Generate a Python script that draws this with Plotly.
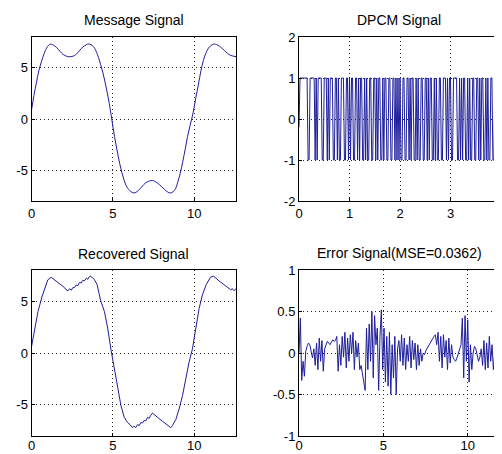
import numpy as np
import plotly.graph_objects as go

# ---------------- data ----------------
msg_t = [0.0, 0.15, 0.31, 0.45, 0.61, 0.78, 0.92, 1.05, 1.15, 1.3, 1.53, 1.75, 1.94, 2.2, 2.43,
         2.65, 2.86, 3.07, 3.27, 3.45, 3.58, 3.72, 3.88, 4.0, 4.12, 4.25, 4.39, 4.52, 4.65, 4.78,
         4.92, 5.1, 5.31, 5.55, 5.82, 6.05, 6.3, 6.55, 6.78, 7.0, 7.24, 7.42, 7.6, 7.86, 8.16,
         8.35, 8.52, 8.7, 8.85, 8.98, 9.14, 9.29, 9.45, 9.59, 9.75, 9.93, 10.1, 10.26, 10.41,
         10.56, 10.71, 10.87, 11.02, 11.18, 11.3, 11.45, 11.63, 11.85, 12.04, 12.25, 12.57]
msg_v = [0.85, 2.3, 3.6, 4.7, 5.6, 6.4, 6.9, 7.2, 7.3, 7.25, 7.0, 6.6, 6.3, 6.1, 6.08,
         6.2, 6.5, 6.9, 7.15, 7.3, 7.3, 7.2, 6.9, 6.5, 6.0, 5.3, 4.5, 3.6, 2.6, 1.5,
         0.1, -1.7, -3.5, -5.2, -6.5, -7.0, -7.22, -7.0, -6.6, -6.25, -6.05, -6.0, -6.1, -6.4, -6.85,
         -7.1, -7.22, -7.1, -6.8, -6.2, -5.3, -4.2, -2.9, -1.7, -0.6, 0.6, 2.1, 3.4, 4.7,
         5.7, 6.4, 6.9, 7.15, 7.3, 7.3, 7.2, 7.0, 6.7, 6.4, 6.2, 6.08]

dpcm_dt = 0.02
dpcm_v = [
    -0.2, 1, 1, 1, 1, 1, 1, 1, 1, -1, -1,
    1, 1, 1, 1, 1, -1, 1, -1,
    1, 1, 1, 1, -1, -1,
    1, 1, 1, -1, 1, -1,
    1, 1, 1, -1, -1,
    1, 1, -1, 1, -1, -1,
    1, 1, 1, -1, -1,
    1, 1, -1, 1, -1,
    1, 1, -1, -1,
    1, 1, -1, 1, -1,
    1, 1, -1, -1,
    1, -1, 1, -1, -1,
    1, 1, -1, -1,
    1, 1, -1, 1, -1,
    1, 1, -1, -1,
    1, -1, 1, 1, -1, -1,
    1, 1, -1, -1,
    1, 1, -1, 1, -1,
    1, -1, 1, -1, -1,
    1, 1, -1, -1,
    1, 1, -1, 1, -1,
    1, 1, -1, -1,
    1, -1, 1, -1, -1,
    1, 1, -1, -1,
    1, 1, -1, 1, -1,
    1, 1, -1, -1,
    1, -1, 1, -1, -1,
    1, 1, -1, -1,
    1, 1, 1, -1, 1, -1,
    1, 1, -1, -1,
    1, 1, 1, 1, -1, -1,
    1, -1, 1, -1,
    1, 1, -1, -1,
    1, -1, 1, -1, -1,
    1, 1, -1, -1,
    1, 1, -1, 1, -1,
    1, 1, -1, -1,
    1, -1, 1, -1, -1,
    1, 1, -1, -1,
    1, 1, 1, -1, 1, -1,
    1, 1, -1, -1,
    1, 0.2,
]

rec_t = [0.0, 0.15, 0.4, 0.64, 0.85, 1.0, 1.21, 1.42, 1.73, 1.9, 2.03, 2.12, 2.24, 2.34, 2.44,
         2.54, 2.64, 2.74, 2.85, 2.95, 3.05, 3.15, 3.25, 3.36, 3.46, 3.55, 3.62, 3.72, 3.87, 4.03,
         4.12, 4.24, 4.48, 4.68, 4.89, 5.09, 5.3, 5.5, 5.7, 5.9, 6.05, 6.21, 6.3, 6.4, 6.52,
         6.62, 6.72, 6.82, 6.92, 7.02, 7.13, 7.23, 7.33, 7.44, 7.74, 8.15, 8.46, 8.56, 8.66, 8.87,
         9.07, 9.28, 9.48, 9.68, 9.89, 10.1, 10.3, 10.5, 10.74, 11.0, 11.2, 11.52, 11.93, 12.24,
         12.35, 12.44, 12.57]
rec_v = [0.6, 2.0, 4.0, 5.4, 6.5, 7.05, 7.3, 7.05, 6.7, 6.5, 6.3, 6.1, 6.0, 6.2, 6.05,
         6.3, 6.3, 6.55, 6.5, 6.8, 6.75, 7.0, 6.95, 7.2, 7.1, 7.35, 7.4, 7.3, 7.05, 6.6,
         5.9, 5.1, 4.0, 2.4, 0.26, -1.5, -3.5, -5.1, -6.2, -6.7, -6.9, -7.2, -7.05, -7.2, -6.9,
         -7.0, -6.7, -6.75, -6.5, -6.55, -6.2, -6.3, -6.0, -5.8, -6.2, -6.7, -7.1, -7.2, -7.0, -6.4,
         -5.4, -4.1, -2.5, -0.9, 0.4, 2.4, 4.3, 5.6, 6.6, 7.3, 7.4, 6.95, 6.5, 6.1,
         6.2, 6.0, 6.2]

err_dt = 0.08
err_v = [
    0.0, 0.42, -0.33, -0.1, -0.28, 0.02, 0.08, 0.12, 0.1, 0.02,
    -0.06, 0.05, -0.15, 0.12, -0.2, 0.18, -0.1, 0.15, -0.22, 0.05,
    0.1, 0.14, 0.12, 0.1, 0.13, 0.16, 0.14, 0.15, 0.2, -0.22,
    0.1, -0.15, 0.2, -0.05, 0.25, -0.18, 0.18, -0.1, 0.22, 0.0,
    0.25, -0.2, 0.15, -0.05, 0.12, -0.2, -0.15, -0.25, -0.3, -0.45,
    0.3, -0.2, 0.35, -0.1, 0.5, -0.3, 0.45, 0.1, 0.3, -0.45,
    0.2, 0.52, -0.2, 0.3, -0.35, 0.2, -0.4, 0.25, -0.5, 0.1,
    -0.3, 0.2, -0.5, 0.05, 0.15, -0.1, 0.22, -0.15, 0.18, -0.2,
    0.1, -0.1, 0.2, -0.18, 0.15, -0.08, 0.12, -0.2, 0.1, -0.15,
    0.05, -0.1, 0.0, -0.02, 0.03, 0.06, 0.09, 0.12, 0.15, 0.18,
    0.2, 0.22, 0.1, 0.25, -0.1, 0.2, -0.18, 0.22, -0.05, 0.15,
    -0.2, 0.18, -0.12, 0.1, -0.05, -0.08, -0.1, -0.06, 0.0, 0.05,
    0.1, 0.42, -0.3, 0.45, -0.1, 0.4, -0.35, 0.1, -0.2, 0.0,
    0.08, 0.05, -0.05, -0.1, -0.05, 0.05, -0.15, 0.15, -0.2, 0.12,
    -0.18, 0.2, -0.1, 0.1, -0.2, 0.0, 0.05, 0.08, 0.1, 0.1,
    0.1, 0.08,
]

titles = ["Message Signal", "DPCM Signal", "Recovered Signal", "Error Signal(MSE=0.0362)"]
ticks_sig = [-5, 0, 5]
ticks_sig_lbl = ["-5", "0", "5"]
ticks_sig_x = [0, 5, 10]
ticks_sig_x_lbl = ["0", "5", "10"]
ticks_dpcm_x = [0, 1, 2, 3, 4]
ticks_dpcm_x_lbl = ["0", "1", "2", "3", "4"]
ticks_dpcm_y = [-2, -1, 0, 1, 2]
ticks_dpcm_y_lbl = ["-2", "-1", "0", "1", "2"]
ticks_err_y = [-1, -0.5, 0, 0.5, 1]
ticks_err_lbl = ["-1", "-0.5", "0", "0.5", "1"]

# ---------------- figure ----------------
# the page body has an 8px margin, so the figure is offset by 8px
OFF = 8
W, H = 502 - OFF, 454 - OFF
LINE = "#1e1e9c"
FONT = "Liberation Sans"

dpcm_t = np.arange(len(dpcm_v)) * dpcm_dt
err_t = np.arange(len(err_v)) * err_dt

fig = go.Figure()
fig.add_trace(go.Scatter(x=msg_t, y=msg_v, mode="lines", line=dict(color=LINE, width=1, shape="spline"),
                         xaxis="x", yaxis="y"))
fig.add_trace(go.Scatter(x=dpcm_t, y=dpcm_v, mode="lines", line=dict(color=LINE, width=1),
                         xaxis="x2", yaxis="y2"))
fig.add_trace(go.Scatter(x=rec_t, y=rec_v, mode="lines", line=dict(color=LINE, width=1),
                         xaxis="x3", yaxis="y3"))
fig.add_trace(go.Scatter(x=err_t, y=err_v, mode="lines", line=dict(color=LINE, width=1),
                         xaxis="x4", yaxis="y4"))

def px_x(a, b):
    return [(a - OFF) / W, min(1.0, (b - OFF) / W)]

def px_y(top, bot):
    return [1 - (bot - OFF) / H, 1 - (top - OFF) / H]

common = dict(showline=True, linecolor="black", linewidth=1, mirror=True, ticks="inside",
              ticklen=3, tickcolor="black", showgrid=True, gridcolor="#222222", griddash="1px,3px",
              gridwidth=1, zeroline=False, tickfont=dict(family=FONT, size=13, color="black"),
              ticklabeloverflow="allow", automargin=False, tickmode="array")

LX = px_x(31.5, 236)
RX = px_x(299, 502)
TY = px_y(37, 201)
BY = px_y(270, 436)

fig.update_layout(
    width=W, height=H, margin=dict(l=0, r=0, t=0, b=0),
    paper_bgcolor="white", plot_bgcolor="white", showlegend=False,
    xaxis=dict(domain=LX, anchor="y", range=[0, 4 * np.pi], tickvals=ticks_sig_x, ticktext=ticks_sig_x_lbl, **common),
    yaxis=dict(domain=TY, anchor="x", range=[-8, 8], tickvals=ticks_sig, ticktext=ticks_sig_lbl, **common),
    xaxis2=dict(domain=RX, anchor="y2", range=[0, 4.02], tickvals=ticks_dpcm_x, ticktext=ticks_dpcm_x_lbl, **common),
    yaxis2=dict(domain=TY, anchor="x2", range=[-2, 2], tickvals=ticks_dpcm_y, ticktext=ticks_dpcm_y_lbl, **common),
    xaxis3=dict(domain=LX, anchor="y3", range=[0, 4 * np.pi], tickvals=ticks_sig_x, ticktext=ticks_sig_x_lbl,
                ticklabelstandoff=-3, **common),
    yaxis3=dict(domain=BY, anchor="x3", range=[-8, 8], tickvals=ticks_sig, ticktext=ticks_sig_lbl, **common),
    xaxis4=dict(domain=RX, anchor="y4", range=[0, 12.03], tickvals=ticks_sig_x, ticktext=ticks_sig_x_lbl,
                ticklabelstandoff=-3, **common),
    yaxis4=dict(domain=BY, anchor="x4", range=[-1, 1], tickvals=ticks_err_y, ticktext=ticks_err_lbl, **common),
)

title_pos = [((31.5 + 236) / 2, 20), ((299 + 502) / 2 - 1.5, 20), ((31.5 + 236) / 2, 254), ((299 + 502) / 2 - 1.5, 253)]
for txt, (cx, cy) in zip(titles, title_pos):
    fig.add_annotation(text=txt, x=(cx - OFF) / W, y=1 - (cy - OFF) / H, xref="paper", yref="paper", showarrow=False,
                       xanchor="center", yanchor="middle", font=dict(family=FONT, size=14, color="black"))

fig.write_html("out.html")
